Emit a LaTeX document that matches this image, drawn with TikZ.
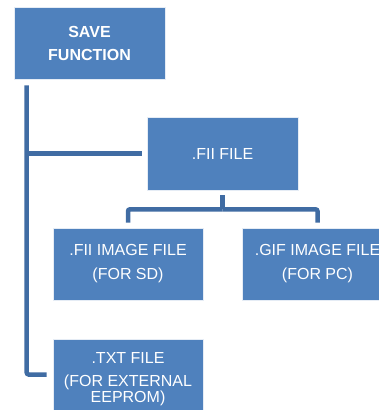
\documentclass[tikz,border=0pt]{standalone}
\usepackage{fontspec}
\setmainfont{Liberation Sans}
\definecolor{boxblue}{HTML}{4F81BD}
\definecolor{lineblue}{HTML}{406CA3}
\begin{document}
\begin{tikzpicture}[x=1pt,y=-1pt,
  box/.style={fill=boxblue,draw=white!85!boxblue,line width=0.6pt,text=white,
    minimum width=151pt,minimum height=72pt,inner sep=0pt,align=center,
    font=\fontsize{16}{24}\selectfont},
  conn/.style={draw=lineblue,line width=4.5pt}]
\useasboundingbox (0,0) rectangle (379,410);
\clip (0,0) rectangle (379,410);
\node[box,font=\bfseries\fontsize{16}{23}\selectfont] (save) at (89.5,43) {SAVE\\FUNCTION};
\node[box,minimum height=73pt] (fii) at (222.5,153.5) {.FII FILE};
\node[box,minimum width=150pt] (fiiimg) at (128,264) {.FII IMAGE FILE\\(FOR SD)};
\node[box] (gif) at (317.5,264) {.GIF IMAGE FILE\\(FOR PC)};
\node[box,minimum width=150pt,minimum height=80pt,font=\fontsize{16}{16}\selectfont] (txt) at (128,379) {.TXT FILE\\[7pt](FOR EXTERNAL\\EEPROM)};
% trunk from SAVE FUNCTION
\coordinate (trunk) at ([xshift=13pt,yshift=-6pt]save.south west);
\draw[conn,rounded corners=2pt] (trunk) |- ([xshift=-6pt]txt.west |- 0,374.5);
\draw[conn] (trunk |- fii.west) -- ([xshift=-5pt]fii.west);
% .FII FILE children
\coordinate (fork) at ([yshift=-19pt]fii.south);
\draw[conn] ([yshift=-5pt]fii.south) -- (fork);
\draw[conn,rounded corners=2pt] (fork) -| ([yshift=5pt]fiiimg.north);
\draw[conn,rounded corners=2pt] (fork) -| ([yshift=5pt]gif.north);
\end{tikzpicture}
\end{document}
